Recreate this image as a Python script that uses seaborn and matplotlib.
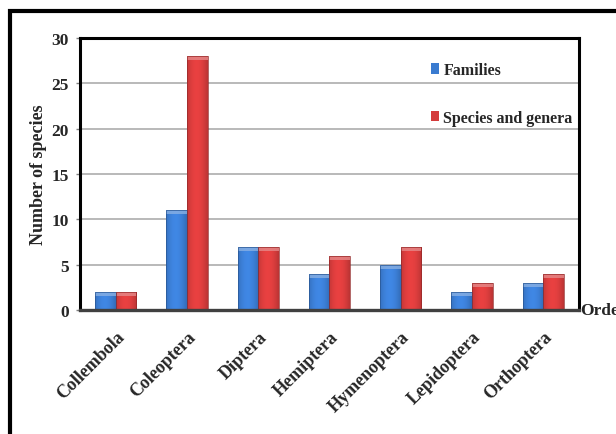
import numpy as np
import pandas as pd
import matplotlib
matplotlib.use("Agg")
import matplotlib.pyplot as plt
from matplotlib.colors import to_rgb
from matplotlib.patches import Rectangle
import seaborn as sns

orders = ["Collembola", "Coleoptera", "Diptera", "Hemiptera",
          "Hymenoptera", "Lepidoptera", "Orthoptera"]
families = [2, 11, 7, 4, 5, 2, 3]
species_genera = [2, 28, 7, 6, 7, 3, 4]
series_names = ["Families", "Species and genera"]
y_ticks = [0, 5, 10, 15, 20, 25, 30]

df = pd.DataFrame({
    "Order": orders * 2,
    "Series": [series_names[0]] * len(orders) + [series_names[1]] * len(orders),
    "Count": families + species_genera,
})

sns.set_theme(style="white")
plt.rcParams["font.family"] = ["Liberation Serif", "DejaVu Serif"]
plt.rcParams["font.weight"] = "bold"

blue = "#3a7bd0"
red = "#d43b3b"

fig = plt.figure(figsize=(6.16, 4.35), dpi=100)
fig.patch.set_facecolor("white")
ax = fig.add_axes([80 / 616, 1 - 311 / 435, 499 / 616, 272 / 435])

sns.barplot(data=df, x="Order", y="Count", hue="Series",
            palette=[blue, red], width=0.58, saturation=1,
            edgecolor="none", linewidth=0, ax=ax, zorder=3)

# horizontal shading on each bar, plus a light cap on top
def shade(color, n=64):
    base = np.array(to_rgb(color))
    t = np.linspace(0, 1, n)
    f = 0.78 + 0.32 * np.sin(np.pi * (0.15 + 0.75 * t))
    img = np.clip(base[None, :] * f[:, None], 0, 1)
    return img[None, :, :]

for cont, col in zip(ax.containers, [blue, red]):
    for bar in cont:
        x0, y0 = bar.get_x(), bar.get_y()
        w, h = bar.get_width(), bar.get_height()
        im = ax.imshow(shade(col), extent=[x0, x0 + w, y0, y0 + h],
                       aspect="auto", zorder=4, interpolation="bilinear")
        im.set_clip_path(bar)
        cap = min(0.45, h)
        lite = tuple(np.clip(np.array(to_rgb(col)) * 0.6 + 0.4, 0, 1))
        ax.add_patch(Rectangle((x0, y0 + h - cap), w, cap, facecolor=lite,
                               edgecolor="none", zorder=5, alpha=0.8))
        ax.add_patch(Rectangle((x0, y0), w, h, facecolor="none",
                               edgecolor=tuple(np.array(to_rgb(col)) * 0.7),
                               linewidth=0.5, zorder=6))

ax.set_xlim(-0.5, len(orders) - 0.5)
ax.set_ylim(0, 30)
ax.set_yticks(y_ticks)
ax.set_yticklabels([str(v) for v in y_ticks])
ax.yaxis.grid(True, color="#a6a6a6", linewidth=1.1, zorder=0)
ax.set_axisbelow(True)

for side in ["left", "top", "right"]:
    ax.spines[side].set_color("black")
    ax.spines[side].set_linewidth(2.2)
ax.spines["bottom"].set_color("#404040")
ax.spines["bottom"].set_linewidth(2.4)
ax.spines["bottom"].set_zorder(7)

ax.tick_params(axis="y", which="major", left=True, length=3, width=1,
               color="#808080", pad=5, labelsize=12.5)
ax.tick_params(axis="x", bottom=False, pad=7, labelsize=13)
for lab in ax.get_yticklabels():
    lab.set_fontweight("bold")
for lab in ax.get_xticklabels():
    lab.set_rotation(45)
    lab.set_ha("right")
    lab.set_rotation_mode("anchor")
    lab.set_fontweight("bold")

ax.set_xlabel("")
ax.set_ylabel("Number of species", fontsize=13, fontweight="bold", labelpad=3)
ax.text(1.003, 0, "Order", transform=ax.transAxes, ha="left", va="center",
        fontsize=12.5, fontweight="bold", clip_on=False)

handles, labels = ax.get_legend_handles_labels()
leg = ax.legend(handles, labels, loc="upper left", bbox_to_anchor=(0.69, 0.935),
                frameon=False, fontsize=11.5, handlelength=0.55, handleheight=0.6,
                handletextpad=0.25, labelspacing=2.0, borderaxespad=0)
for t in leg.get_texts():
    t.set_fontweight("bold")

# outer frame around the figure content, running off the right and bottom edges
fig.add_artist(Rectangle((10 / 616, -0.05), 1.1, 1 - 12 / 435 + 0.05,
                         transform=fig.transFigure, fill=False,
                         edgecolor="black", linewidth=3, clip_on=False))

fig.savefig("out.png", dpi=100, facecolor="white")
